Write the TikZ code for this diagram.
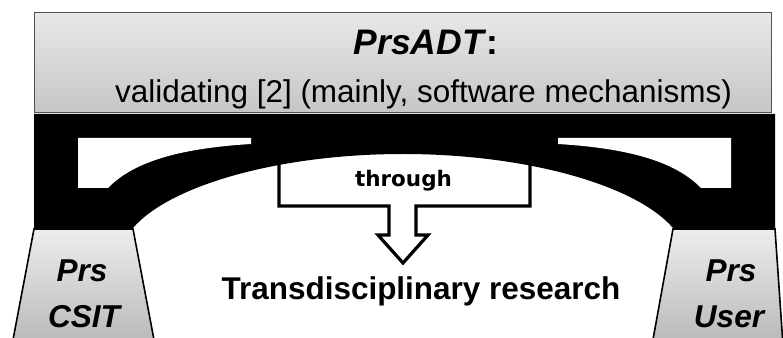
\documentclass[tikz,border=0pt]{standalone}
\usepackage{fontspec}
\setmainfont{Liberation Sans}
\newfontfamily\throughfont{DejaVu Sans}
\definecolor{boxtop}{HTML}{E8E8E8}
\definecolor{boxbot}{HTML}{C6C6C6}
\definecolor{piertop}{HTML}{EDEDED}
\definecolor{pierbot}{HTML}{B8B8B8}
\definecolor{boxline}{HTML}{505050}
\tikzset{
  boxstyle/.style={draw=boxline, line width=0.8pt, top color=boxtop, bottom color=boxbot},
  pierstyle/.style={draw=black, line width=1.2pt, top color=piertop, bottom color=pierbot},
  arrowstyle/.style={draw=black, fill=white, line width=2.4pt, line join=miter},
  lbl/.style={anchor=base, inner sep=0pt},
  titlefont/.style={font=\bfseries\fontsize{26.6}{32}\selectfont},
  subfont/.style={font=\fontsize{23.6}{28}\selectfont},
  thrfont/.style={font=\throughfont\bfseries\fontsize{16.1}{19}\selectfont},
  transfont/.style={font=\bfseries\fontsize{23.6}{28}\selectfont},
  pierfont/.style={font=\bfseries\itshape\fontsize{23.7}{28}\selectfont}
}
\begin{document}
\begin{tikzpicture}[x=0.75pt,y=-0.75pt]
\useasboundingbox (0,0) rectangle (783,338);
\begin{scope}
\clip (0,0) rectangle (783,338);
% top box
\node[boxstyle, minimum width=552.75pt, minimum height=75pt, inner sep=0pt, anchor=north west] (topbox) at (34,12) {};
% piers
\path[pierstyle] (34,229) -- (133,229) -- (155,345) -- (12,345) -- cycle;
\path[pierstyle] (673,229) -- (775,229) -- (783,345) -- (652,345) -- cycle;
% arrow callout
\path[arrowstyle] (279,150) -- (279,206) -- (389,206) -- (389,235) -- (378,235) -- (403,263) -- (428,235) -- (416,235) -- (416,206) -- (530,206) -- (530,150);
% bridge
\fill[black] (34,114) -- (775,114) -- (775,228) -- (673,228)
  .. controls (636,185) and (526,154) .. (403,154)
  .. controls (280,154) and (170,185) .. (133,228) -- (34,228) -- cycle;
\fill[white] (78,138) -- (251,138) -- (251,144) .. controls (185,148) and (135,160) .. (108,188) -- (78,188) -- cycle;
\fill[white] (731,138) -- (558,138) -- (558,144) .. controls (624,148) and (674,160) .. (701,188) -- (731,188) -- cycle;
\end{scope}
% texts
\node[lbl, titlefont] (title) at (426,55) {\textit{PrsADT}:};
\node[lbl, subfont] (sub) at (423.5,103) {validating [2] (mainly, software mechanisms)};
\node[lbl, thrfont] (through) at (403.5,187) {through};
\node[lbl, transfont] (trans) at (421,300) {Transdisciplinary research};
\node[lbl, pierfont] (prsa) at (82,282) {Prs};
\node[lbl, pierfont] (csit) at (84,328) {CSIT};
\node[lbl, pierfont] (prsb) at (731,282) {Prs};
\node[lbl, pierfont] (user) at (729,328) {User};
\end{tikzpicture}
\end{document}
